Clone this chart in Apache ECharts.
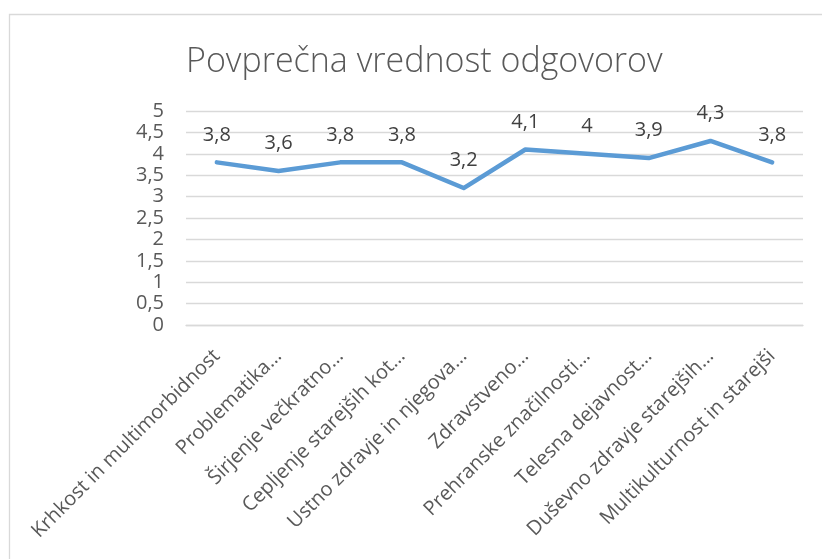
<!DOCTYPE html>
<html>
<head>
<meta charset="utf-8">
<script src="https://cdn.jsdelivr.net/npm/echarts@6/dist/echarts.min.js"></script>
<style>
  html, body { margin: 0; padding: 0; background: #fff; }
  #chart { width: 822px; height: 559px; }
</style>
</head>
<body>
<div id="chart"></div>
<script>
// podatki
const categories = [
  'Krhkost in multimorbidnost',
  'Problematika…',
  'Širjenje večkratno…',
  'Cepljenje starejših kot…',
  'Ustno zdravje in njegova…',
  'Zdravstveno…',
  'Prehranske značilnosti…',
  'Telesna dejavnost…',
  'Duševno zdravje starejših…',
  'Multikulturnost in starejši'
];
const values = [3.8, 3.6, 3.8, 3.8, 3.2, 4.1, 4.0, 3.9, 4.3, 3.8];
const yMin = 0;
const yMax = 5;
const yStep = 0.5;

const textColor = '#595959';
const comma = v => String(v).replace('.', ',');

const chart = echarts.init(document.getElementById('chart'));
chart.setOption({
  animation: false,
  textStyle: { fontFamily: 'Open Sans' },
  graphic: [{
    type: 'rect',
    left: 7, top: 12,
    shape: { width: 840, height: 580 },
    style: { fill: 'none', stroke: '#D9D9D9', lineWidth: 1.3 },
    silent: true
  }],
  title: {
    text: 'Povprečna vrednost odgovorov',
    left: 181,
    top: 40,
    textStyle: { color: textColor, fontSize: 34, fontWeight: 300, fontFamily: 'Open Sans' }
  },
  grid: { left: 186, right: 19, top: 111, height: 214, containLabel: false },
  xAxis: {
    type: 'category',
    data: categories,
    boundaryGap: true,
    axisLine: { show: true, lineStyle: { color: '#D9D9D9', width: 1.3 } },
    axisTick: { show: false },
    axisLabel: {
      interval: 0,
      rotate: 45,
      margin: 28,
      color: textColor,
      fontSize: 20
    }
  },
  yAxis: {
    type: 'value',
    min: yMin,
    max: yMax,
    interval: yStep,
    axisLine: { show: false },
    axisTick: { show: false },
    splitLine: { lineStyle: { color: '#D9D9D9', width: 1.3 } },
    axisLabel: {
      margin: 22,
      color: textColor,
      fontSize: 20,
      formatter: comma
    }
  },
  series: [{
    type: 'line',
    data: values,
    symbol: 'circle',
    symbolSize: 1,
    showSymbol: true,
    itemStyle: { color: 'rgba(0,0,0,0)' },
    lineStyle: { color: '#5B9BD5', width: 4.5, cap: 'round', join: 'round' },
    label: {
      show: true,
      position: 'top',
      distance: 17,
      color: '#404040',
      fontSize: 20,
      formatter: p => comma(p.value)
    },
    labelLayout: { hideOverlap: false }
  }]
});
</script>
</body>
</html>
